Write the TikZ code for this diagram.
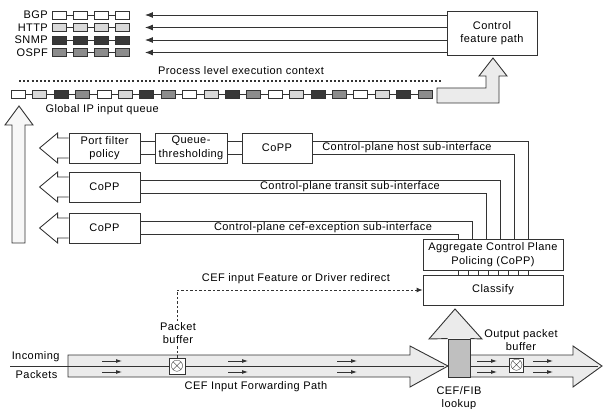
\documentclass[tikz,border=0pt]{standalone}
\usepackage{fontspec}
\setmainfont{Liberation Sans}[LetterSpace=4]
\usetikzlibrary{arrows.meta,calc}
\definecolor{ink}{HTML}{333333}
\definecolor{pale}{HTML}{EBEBEB}
\colorlet{light}{black!15}
\colorlet{mid}{black!45}
\colorlet{dark}{black!78}

\begin{document}
\begin{tikzpicture}[x=1pt, y=-1pt,
    font=\fontsize{11}{13.5}\selectfont,
    cell/.style={draw=ink, line width=0.9pt, minimum width=14pt, minimum height=8pt, inner sep=0pt},
    blk/.style={draw=ink, line width=0.8pt, fill=white, align=center, inner sep=1pt},
    wire/.style={draw=ink, line width=0.85pt},
    fat/.style={draw=ink, line width=0.9pt, fill=pale},
    buf/.style={draw=ink, line width=0.9pt, fill=white, inner sep=0pt, font=\fontsize{19}{19}\selectfont},
    tip/.style={-{Latex[length=8pt,width=6pt]}},
    redir/.style={wire, dash pattern=on 2.5pt off 2pt, -{Latex[length=6pt,width=5pt]}},
    tiny/.style={wire, -{Latex[length=6pt,width=4pt]}}]

\useasboundingbox (0,0) rectangle (606,409);

% control feature path and the protocol queues
\node[blk, minimum width=90pt, minimum height=44pt] (ctrl) at (492,33) {Control\\feature path};
\foreach \name/\py/\fc in {BGP/15/white, HTTP/27.5/light, SNMP/40/dark, OSPF/52.5/mid} {
    \node[anchor=east, inner sep=0pt] (\name) at (48,\py) {\name};
    \foreach \i in {1,...,4}
        \node[cell, fill=\fc] (\name-\i) at (38.5+21*\i,\py) {};
    \foreach \i/\j in {1/2,2/3,3/4}
        \draw[wire] (\name-\i) -- (\name-\j);
    \draw[wire, tip] (ctrl.west |- \name-4.east) -- ([shift={(15,0)}]\name-4.east);
}

% process level
\node (proc) at (241,71) {Process level execution context};
\draw[ink, line width=1.6pt, dash pattern=on 2pt off 2.2pt] (19,81) -- (443,81);

% global IP input queue
\foreach \g in {0,...,4}
    \foreach \k/\fc in {0/white,1/light,2/dark,3/mid} {
        \pgfmathtruncatemacro\n{4*\g+\k}
        \node[cell, fill=\fc] (q\n) at (18.5+21.4*\n,94) {};
    }
\foreach \i [count=\j from 1] in {0,...,18}
    \draw[wire] (q\i) -- (q\j);
\node[anchor=west] (gq) at (42,110) {Global IP input queue};
\draw[fat] (437,88) -- (486,88) -- (486,76) -- (479,76) -- (493,58) -- (507,76)
    -- (499,76) -- (499,103) -- (437,103) -- cycle;
\draw[fat, fill=gray!6] (12,243) -- (12,125) -- (5,125) -- (19,106) -- (33,125)
    -- (25,125) -- (25,243) -- cycle;

% sub-interfaces
\node[blk, minimum width=71pt, minimum height=30pt] (pf) at (104.5,148) {Port filter\\policy};
\node[blk, minimum width=72pt, minimum height=30pt] (qt) at (191,148) {Queue-\\thresholding};
\node[blk, minimum width=70pt, minimum height=30pt] (cp1) at (277,148) {CoPP};
\node[blk, minimum width=71pt, minimum height=30pt] (cp2) at (104.5,187) {CoPP};
\node[blk, minimum width=71pt, minimum height=30pt] (cp3) at (104.5,228) {CoPP};
\foreach \b in {pf,cp2,cp3}
    \draw[wire, fill=white] ([shift={(0,-10)}]\b.west) -- ++(-11,0) -- ++(0,-5) -- ++(-18,15)
        -- ++(18,15) -- ++(0,-5) -- ([shift={(0,10)}]\b.west);
\foreach \a/\b in {pf/qt,qt/cp1}
    \foreach \dy in {-6.5,6}
        \draw[wire] ([shift={(0,\dy)}]\a.east) -- ([shift={(0,\dy)}]\b.west);

\node[blk, minimum width=140pt, minimum height=31pt] (agg) at (493,254.5) {Aggregate Control Plane\\Policing (CoPP)};
\node[blk, minimum width=140pt, minimum height=30pt] (cls) at (493,290) {Classify};
\foreach \dx in {-35,-25,...,35}
    \draw[wire] ([shift={(\dx,0)}]agg.south) -- ([shift={(\dx,0)}]cls.north);

\draw[wire] ([shift={(0,-6.5)}]cp1.east) -| ([shift={(35,0)}]agg.north);
\draw[wire] ([shift={(0,6)}]cp1.east) -| ([shift={(21,0)}]agg.north);
\draw[wire] ([shift={(0,-6.5)}]cp2.east) -| ([shift={(7,0)}]agg.north);
\draw[wire] ([shift={(0,6)}]cp2.east) -| ([shift={(-7,0)}]agg.north);
\draw[wire] ([shift={(0,-6.5)}]cp3.east) -| ([shift={(-21,0)}]agg.north);
\draw[wire] ([shift={(0,6)}]cp3.east) -| ([shift={(-35,0)}]agg.north);
\node (host) at (407,147.5) {Control-plane host sub-interface};
\node (trans) at (350,186.5) {Control-plane transit sub-interface};
\node (cefx) at (323,227.5) {Control-plane cef-exception sub-interface};

% CEF forwarding path
\draw[fat] (68,355) -- (410,355) -- (410,346) -- (448,366) -- (410,387) -- (410,377)
    -- (68,377) -- cycle;
\draw[fat] (470,355) -- (573,355) -- (573,346) -- (602,366) -- (573,387) -- (573,377)
    -- (470,377) -- cycle;
\coordinate (inc) at (10,366);
\draw[wire] (inc) -- (444,366);
\draw[wire] (470,366) -- (598,366);
\foreach \x in {102,228,337,477,533}
    \foreach \py in {361,372}
        \draw[tiny] (\x,\py) -- ++(20,0);
\node[draw=ink, line width=0.9pt, fill=black!25, minimum width=22pt, minimum height=38pt] (fib) at (459,358) {};
\draw[fat] (fib.north west) -- (429,339) -- (455,309) -- (482,339) -- (fib.north east);

\node[buf, minimum size=16pt] (pb) at (177,366) {$\otimes$};
\node[buf, minimum size=14pt] (ob) at (516.5,365) {$\otimes$};
\draw[redir] (pb.north) |- (cls.west);
\node[fill=white, inner sep=1pt, align=center] (pbl) at (178,333) {Packet\\buffer};
\node (redirl) at (296,279) {CEF input Feature or Driver redirect};
\node[anchor=east] (incl) at (63,357) {Incoming};
\node[anchor=east] (pktl) at (61,375) {Packets};
\node (cefl) at (256,387) {CEF Input Forwarding Path};
\node[align=center] (fibl) at (459,398) {CEF/FIB\\lookup};
\node[align=center] (obl) at (521,340) {Output packet\\buffer};
\end{tikzpicture}
\end{document}
